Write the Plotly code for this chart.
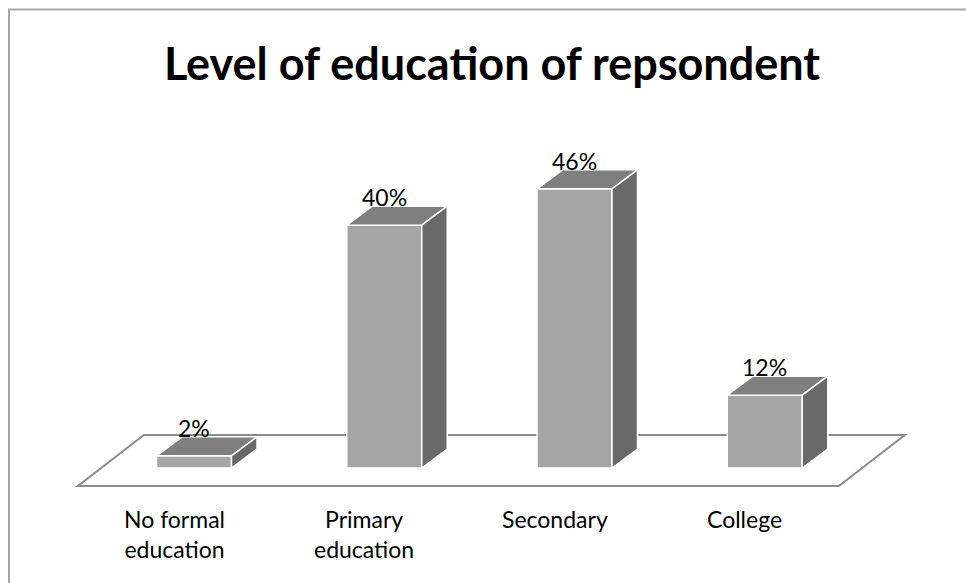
import plotly.graph_objects as go

# ---- data ----
categories = ["No formal<br>education", "Primary<br>education", "Secondary", "College"]
shares = [2, 40, 46, 12]          # percent of respondents

# ---- page / plot geometry (pixels) ----
W, H = 966, 583
M_L, M_R, M_T, M_B = 60, 50, 100, 83
plot_w = W - M_L - M_R
plot_h = H - M_T - M_B
px_per_cat = 190.25                 # spacing between category centres
first_center_px = 194               # page column of the first category centre
x_range = [(M_L - first_center_px) / px_per_cat,
           (W - M_R - first_center_px) / px_per_cat]
px_per_pct = 6.07
base_px = 468                       # page row of the bar bases
y_min = -(M_T + plot_h - base_px) / px_per_pct
y_max = (base_px - M_T) / px_per_pct

# ---- 3-D look (pixel offsets converted to data units) ----
bar_w = 75 / px_per_cat
ddx = 25.5 / px_per_cat
ddy = 19 / px_per_pct
floor_front = (-21 / px_per_cat, -18 / px_per_pct)
floor_back = (45 / px_per_cat, 33 / px_per_pct)

FRONT = "#a5a5a5"
TOP = "#7f7f7f"
SIDE = "#696969"
EDGE = "white"
FONT = "Lato"

xs = list(range(len(categories)))
band = [-0.5, len(categories) - 0.5]

fig = go.Figure()

# front faces
fig.add_trace(go.Bar(
    x=xs, y=shares, width=bar_w,
    marker=dict(color=FRONT, line=dict(color=EDGE, width=1.5)),
    hoverinfo="skip",
))

# top and side faces of each box
for x, v in zip(xs, shares):
    xl, xr = x - bar_w / 2, x + bar_w / 2
    fig.add_trace(go.Scatter(
        x=[xl, xr, xr + ddx, xl + ddx, xl],
        y=[v, v, v + ddy, v + ddy, v],
        mode="lines", fill="toself", fillcolor=TOP,
        line=dict(color=EDGE, width=1.5), hoverinfo="skip",
    ))
    fig.add_trace(go.Scatter(
        x=[xr, xr + ddx, xr + ddx, xr, xr],
        y=[0, ddy, v + ddy, v, 0],
        mode="lines", fill="toself", fillcolor=SIDE,
        line=dict(color=EDGE, width=1.5), hoverinfo="skip",
    ))

# value labels above each box
for x, v in zip(xs, shares):
    fig.add_annotation(
        x=x, y=v, yshift=28, text=f"{v}%", showarrow=False,
        xanchor="center", yanchor="middle",
        font=dict(family=FONT, size=23, color="black"),
    )

# category labels along the front edge of the floor
label_top = (M_T + plot_h - 503) / plot_h
for x, c in zip(xs, categories):
    fig.add_annotation(
        x=x, xshift=-20, yref="paper", y=label_top, text=c, showarrow=False,
        xanchor="center", yanchor="top", align="center",
        font=dict(family=FONT, size=23, color="black"),
    )

# floor outline
fx0, fx1 = band[0] + floor_front[0], band[1] + floor_front[0]
bx0, bx1 = band[0] + floor_back[0], band[1] + floor_back[0]
floor_path = (f"M {fx0},{floor_front[1]} L {fx1},{floor_front[1]} "
              f"L {bx1},{floor_back[1]} L {bx0},{floor_back[1]} Z")
fig.add_shape(type="path", path=floor_path, xref="x", yref="y",
              line=dict(color="#8c8c8c", width=2), fillcolor="white",
              layer="below")

# chart frame
fig.add_shape(
    type="rect", xref="paper", yref="paper",
    x0=(9 - M_L) / plot_w, x1=(W + 20 - M_L) / plot_w,
    y0=(M_T + plot_h - (H + 20)) / plot_h, y1=(M_T + plot_h - 9.5) / plot_h,
    line=dict(color="#a6a6a6", width=2), fillcolor="rgba(0,0,0,0)",
    layer="below",
)

fig.update_layout(
    width=W, height=H,
    margin=dict(l=M_L, r=M_R, t=M_T, b=M_B),
    paper_bgcolor="white", plot_bgcolor="white",
    showlegend=False,
    title=dict(
        text="<b>Level of education of repsondent</b>",
        x=492 / W, xanchor="center", xref="container",
        y=1 - 64 / H, yanchor="middle", yref="container",
        font=dict(family=FONT, size=45, color="black"),
    ),
    xaxis=dict(range=x_range, visible=False, fixedrange=True),
    yaxis=dict(range=[y_min, y_max], visible=False, fixedrange=True),
)

fig.write_html("out.html")
